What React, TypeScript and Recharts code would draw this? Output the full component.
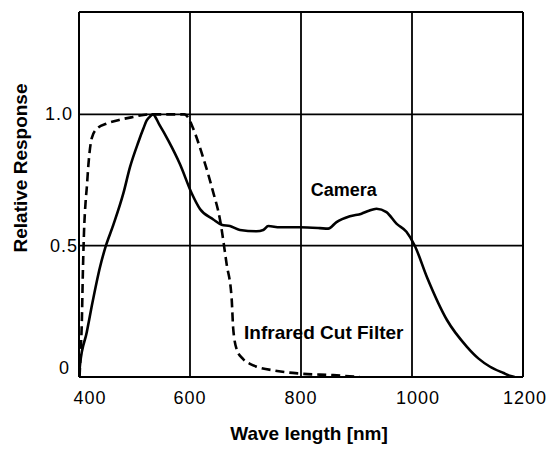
import React from 'react';
import { LineChart, Line, XAxis, YAxis, CartesianGrid, ReferenceLine, ReferenceDot, Label } from 'recharts';

const cameraWave = [400, 402, 414, 423, 438, 447, 462, 480, 492, 507, 516, 522, 527, 533, 545, 561, 582, 603, 618, 642, 657, 672, 690, 720, 732, 741, 762, 798, 834, 849, 864, 888, 909, 921, 936, 954, 972, 990, 1005, 1027, 1063, 1099, 1120, 1140, 1165, 1176, 1185];
const cameraResp = [0, 0.05, 0.17, 0.27, 0.42, 0.49, 0.58, 0.7, 0.8, 0.895, 0.946, 0.977, 0.99, 1.0, 0.96, 0.9, 0.81, 0.7, 0.64, 0.6, 0.58, 0.575, 0.56, 0.555, 0.56, 0.575, 0.57, 0.57, 0.567, 0.565, 0.59, 0.612, 0.622, 0.632, 0.641, 0.628, 0.584, 0.553, 0.5, 0.38, 0.217, 0.115, 0.07, 0.04, 0.015, 0.005, 0];

const filterWave = [401, 403, 405, 407, 409, 412, 414, 417, 423, 432, 450, 474, 497, 525, 590, 596, 605, 623, 641, 654, 666, 675, 678, 685, 695, 708, 757, 798, 858, 906];
const filterResp = [0, 0.1, 0.2, 0.4, 0.55, 0.67, 0.72, 0.81, 0.91, 0.945, 0.965, 0.98, 0.99, 1.0, 1.0, 0.99, 0.95, 0.84, 0.71, 0.6, 0.43, 0.3, 0.18, 0.1, 0.07, 0.05, 0.023, 0.013, 0.007, 0];

const xTicks = [400, 600, 800, 1000, 1200];
const xTickLabels = ['400', '600', '800', '1000', '1200'];
const yTicks = [0, 0.5, 1.0];
const yTickLabels = ['0', '0.5', '1.0'];

const cameraData = cameraWave.map((x, i) => ({ x, camera: cameraResp[i] }));
const filterData = filterWave.map((x, i) => ({ x, filter: filterResp[i] }));

const FONT = '"Liberation Sans", Arial, sans-serif';
const X_MIN = 400, X_MAX = 1200, Y_MAX = 1.39;

const xDx: Record<number, number> = { 400: 11, 600: 0, 800: 0, 1000: 6, 1200: 2 };
const yDx: Record<number, number> = { 0: -9, 0.5: -1, 1: -6 };
const yDy: Record<number, number> = { 0: -9, 0.5: 0, 1: 0 };

const XTick = (props: any) => {
  const { x, y, payload } = props;
  const v = payload.value;
  const i = xTicks.indexOf(v);
  return (
    <text x={x + (xDx[v] || 0)} y={y} textAnchor="middle" dominantBaseline="central" fontFamily={FONT} fontSize={18} letterSpacing={1} fill="#000">
      {xTickLabels[i]}
    </text>
  );
};

const YTick = (props: any) => {
  const { y, payload } = props;
  const v = payload.value;
  const i = yTicks.indexOf(v);
  return (
    <text x={79 + (yDx[v] || 0)} y={y + (yDy[v] || 0)} textAnchor="end" dominantBaseline="central" fontFamily={FONT} fontSize={18} letterSpacing={1} fill="#000">
      {yTickLabels[i]}
    </text>
  );
};

const textLabel = (text: string, size: number) => (p: any) => {
  const vb = p.viewBox || {};
  const cx = (vb.x || 0) + (vb.width || 0) / 2;
  const cy = (vb.y || 0) + (vb.height || 0) / 2;
  return (
    <text x={cx} y={cy} textAnchor="middle" dominantBaseline="central" fontFamily={FONT} fontSize={size} fontWeight="bold" fill="#000">
      {text}
    </text>
  );
};

export default function App() {
  return (
    <div style={{ position: 'absolute', left: 0, top: 0, width: 550, height: 450, background: '#fff' }}>
      <LineChart width={550} height={450} margin={{ top: 12, right: 27, left: 0, bottom: 0 }}>
        <CartesianGrid stroke="#000" strokeWidth={1.8} vertical horizontal verticalValues={xTicks} horizontalValues={yTicks} />
        <XAxis
          type="number"
          dataKey="x"
          domain={[X_MIN, X_MAX]}
          ticks={xTicks}
          allowDataOverflow
          height={73}
          axisLine={{ stroke: '#000', strokeWidth: 2 }}
          tickLine={false}
          tick={<XTick />}
          tickMargin={15}
        >
          <Label
            content={() => (
              <text x={309} y={433} textAnchor="middle" dominantBaseline="central" fontFamily={FONT} fontSize={19} fontWeight="bold" fill="#000">
                Wave length [nm]
              </text>
            )}
          />
        </XAxis>
        <YAxis
          type="number"
          domain={[0, Y_MAX]}
          ticks={yTicks}
          allowDataOverflow
          width={79}
          axisLine={{ stroke: '#000', strokeWidth: 2 }}
          tickLine={false}
          tick={<YTick />}
        >
          <Label
            content={() => (
              <text x={20} y={168} transform="rotate(-90 20 168)" textAnchor="middle" dominantBaseline="central" fontFamily={FONT} fontSize={19} fontWeight="bold" fill="#000">
                Relative Response
              </text>
            )}
          />
        </YAxis>
        <ReferenceLine y={Y_MAX} stroke="#000" strokeWidth={2} />
        <ReferenceLine x={X_MAX} stroke="#000" strokeWidth={2} />
        <Line data={filterData} dataKey="filter" type="monotone" stroke="#000" strokeWidth={2.6} strokeDasharray="9 5" dot={false} isAnimationActive={false} />
        <Line data={cameraData} dataKey="camera" type="monotone" stroke="#000" strokeWidth={2.6} dot={false} isAnimationActive={false} />
        <ReferenceDot x={877} y={0.712} r={0} fill="none" stroke="none">
          <Label content={textLabel('Camera', 18)} />
        </ReferenceDot>
        <ReferenceDot x={841} y={0.171} r={0} fill="none" stroke="none">
          <Label content={textLabel('Infrared Cut Filter', 19)} />
        </ReferenceDot>
      </LineChart>
    </div>
  );
}
